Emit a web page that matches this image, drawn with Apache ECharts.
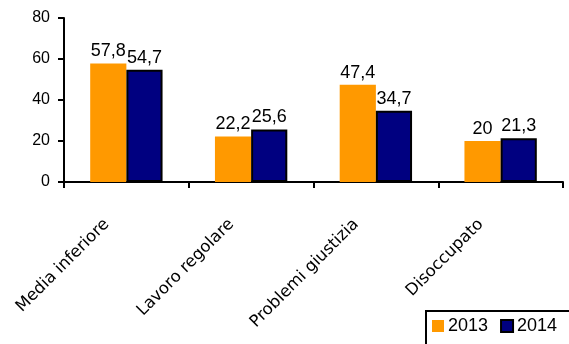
<!DOCTYPE html>
<html>
<head>
<meta charset="utf-8">
<script src="https://cdn.jsdelivr.net/npm/echarts@6/dist/echarts.min.js"></script>
<style>
  html, body { margin: 0; padding: 0; background: #fff; }
  #chart { width: 569px; height: 344px; }
</style>
</head>
<body>
<div id="chart"></div>
<script>
// Categories and yearly values
const categories = ['Media inferiore', 'Lavoro regolare', 'Problemi giustizia', 'Disoccupato'];
const values2013 = [57.8, 22.2, 47.4, 20];
const values2014 = [54.7, 25.6, 34.7, 21.3];
const yTicks = [0, 20, 40, 60, 80];

const FONT = 'Liberation Sans, Arial, sans-serif';
const CAT_FONT = 'DejaVu Sans, Verdana, sans-serif';
const fmt = v => String(v).replace('.', ',');

const chart = echarts.init(document.getElementById('chart'));

const labelStyle = {
  show: true,
  position: 'top',
  distance: 3,
  color: '#000',
  fontFamily: FONT,
  fontSize: 18,
  formatter: p => fmt(p.value)
};

chart.setOption({
  animation: false,
  backgroundColor: '#fff',
  grid: { left: 64, right: 6, top: 18, bottom: 162, containLabel: false },
  legend: {
    left: 426,
    top: 311,
    width: 200,
    padding: [6, 30, 12, 6],
    borderColor: '#000',
    borderWidth: 2,
    itemWidth: 12,
    itemHeight: 12,
    itemGap: 12,
    icon: 'rect',
    textStyle: { color: '#000', fontFamily: FONT, fontSize: 18, padding: [0, 0, 0, -1] },
    data: ['2013', '2014']
  },
  xAxis: {
    type: 'category',
    data: categories,
    axisLine: { lineStyle: { color: '#000', width: 2 } },
    axisTick: { show: true, length: 6, lineStyle: { color: '#000', width: 2 } },
    axisLabel: {
      rotate: 45,
      interval: 0,
      margin: 20,
      color: '#000',
      fontFamily: CAT_FONT,
      fontSize: 16.5,
      padding: [0, 28, 0, 0]
    }
  },
  yAxis: {
    type: 'value',
    min: yTicks[0],
    max: yTicks[yTicks.length - 1],
    interval: 20,
    splitLine: { show: false },
    axisLine: { show: true, lineStyle: { color: '#000', width: 2 } },
    axisTick: { show: true, length: 6, lineStyle: { color: '#000', width: 2 } },
    axisLabel: { margin: 14, color: '#000', fontFamily: FONT, fontSize: 16 }
  },
  series: [
    {
      name: '2013',
      type: 'bar',
      data: values2013,
      barGap: '0%',
      barCategoryGap: '42%',
      itemStyle: { color: '#FF9900' },
      label: labelStyle
    },
    {
      name: '2014',
      type: 'bar',
      data: values2014,
      itemStyle: { color: '#000080', borderColor: '#000', borderWidth: 2 },
      label: labelStyle
    }
  ]
});
</script>
</body>
</html>
